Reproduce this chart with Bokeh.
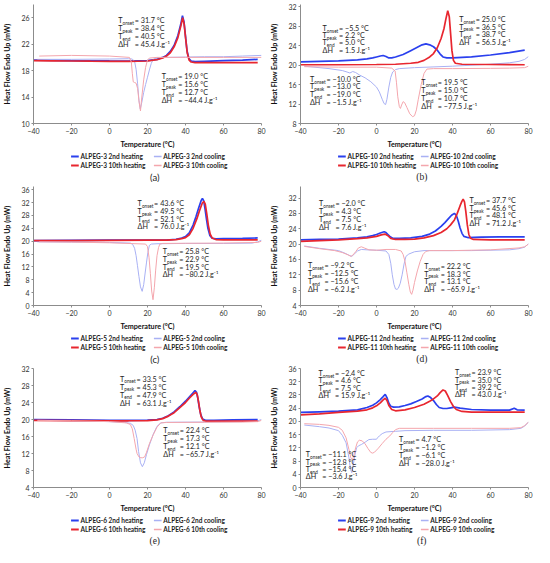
from bokeh.plotting import figure
from bokeh.layouts import column, row
from bokeh.models import ColumnDataSource, FixedTicker
from bokeh.core.properties import value
from bokeh.embed import file_html
from bokeh.resources import INLINE

X_TICKS = [-40, -20, 0, 20, 40, 60, 80]
SUFFIXES = ["2nd heating", "2nd cooling", "10th heating", "10th cooling"]

# ---------------- (a) ALPEG-3
A_NAME = "ALPEG-3"
A_Y_TICKS = [10, 14, 18, 22, 26]
A_H2_T = [-40, -30, -20, -10, 0, 10, 20, 25, 28, 30, 32, 34, 36, 37.5, 38.4, 39.2, 40.0, 40.8, 41.8, 43, 45, 50, 60, 70, 78]
A_H2_Y = [19.6, 19.55, 19.5, 19.48, 19.46, 19.45, 19.5, 19.7, 20.0, 20.3, 20.9, 21.8, 23.3, 25.0, 26.3, 25.4, 23.2, 21.0, 19.8, 19.45, 19.35, 19.4, 19.5, 19.6, 19.7]
A_H10_T = [-40, -30, -20, -10, 0, 10, 20, 25, 28, 30, 32, 34, 36, 37.6, 38.5, 39.3, 40.1, 40.9, 41.9, 43, 45, 50, 60, 70, 78]
A_H10_Y = [19.5, 19.48, 19.45, 19.42, 19.4, 19.4, 19.45, 19.65, 19.9, 20.2, 20.7, 21.6, 23.0, 24.8, 26.0, 25.0, 22.8, 20.7, 19.6, 19.3, 19.2, 19.2, 19.2, 19.2, 19.2]
A_C2_T = [80, 70, 60, 50, 40, 30, 25, 23, 22, 21, 20, 19, 18, 17, 16.2, 15.5, 14.8, 14, 13.2, 12, 10, 0, -20, -38]
A_C2_Y = [20.3, 20.2, 20.1, 20.1, 20.05, 20.0, 19.95, 19.7, 19.1, 18.1, 17.0, 15.9, 14.7, 13.2, 12.2, 13.5, 16.0, 18.2, 19.4, 19.75, 19.8, 19.75, 19.7, 19.7]
A_C10_T = [80, 60, 40, 25, 21, 20, 19, 18, 17, 16.3, 15.6, 14.8, 14, 13.2, 12.5, 12, 11.5, 10.5, 0, -20, -37]
A_C10_Y = [20.0, 20.0, 20.0, 20.0, 19.9, 19.6, 18.5, 16.6, 14.0, 11.9, 13.2, 15.3, 16.1, 16.2, 16.3, 17.6, 19.3, 20.0, 20.2, 20.3, 20.2]
A_ANN_HEAT = ["31.7", "38.4", "40.5", "45.4"]
A_ANN_COOL = ["19.0", "15.6", "12.7", "\u221244.4"]

# ---------------- (b) ALPEG-10
B_NAME = "ALPEG-10"
B_Y_TICKS = [8, 12, 16, 20, 24, 28, 32]
B_H2_T = [-40, -30, -20, -10, -5, -2, 0, 2, 3.5, 5, 6.5, 8, 10, 14, 18, 22, 24, 26, 28, 30, 32, 33.5, 35, 37, 40, 50, 60, 70, 78]
B_H2_Y = [20.7, 20.8, 20.9, 21.1, 21.3, 21.5, 21.7, 21.9, 22.0, 21.8, 21.5, 21.5, 21.7, 22.2, 23.0, 23.8, 24.2, 24.4, 24.2, 23.8, 23.1, 22.3, 21.7, 21.5, 21.5, 21.7, 22.1, 22.6, 23.1]
B_H10_T = [-40, -20, 0, 10, 18, 22, 25, 28, 30, 32, 34, 35.5, 36.5, 37.5, 38.3, 39, 39.7, 40.5, 41.5, 45, 60, 78]
B_H10_Y = [20.1, 20.1, 20.15, 20.2, 20.4, 20.6, 21.0, 21.7, 22.4, 23.6, 25.5, 27.5, 29.5, 31.2, 30.0, 26.5, 23.0, 21.0, 20.4, 20.2, 20.15, 20.1]
B_C2_T = [80, 78, 75, 70, 60, 40, 20, 12, 10, 8.5, 7.5, 6.5, 5.5, 4.8, 4, 3, 1.5, 0, -3, -6, -9, -11, -12.5, -14, -15.5, -18, -25, -38]
B_C2_Y = [21.8, 21.2, 20.8, 20.5, 20.2, 19.8, 19.5, 19.3, 19.1, 18.6, 17.5, 15.5, 13.0, 11.9, 12.1, 13.0, 14.5, 15.5, 16.6, 17.4, 18.0, 18.5, 18.7, 18.4, 18.6, 18.9, 19.3, 19.8]
B_C10_T = [80, 78, 70, 60, 40, 30, 26.5, 25, 23.5, 22, 21, 20, 19, 17.5, 16, 14.8, 14, 13.2, 12.6, 12, 11.2, 10.5, 9.8, 8, 0, -20, -38]
B_C10_Y = [19.8, 19.5, 19.4, 19.35, 19.3, 19.3, 19.2, 18.3, 16.0, 13.0, 10.8, 9.6, 9.4, 10.0, 11.3, 12.3, 12.5, 11.8, 11.1, 11.5, 13.5, 16.5, 18.8, 19.4, 19.6, 19.6, 19.7]
B_ANN_HEAT1 = ["\u22125.5", "2.2", "5.0", "1.5"]
B_ANN_HEAT2 = ["25.0", "36.5", "38.7", "56.5"]
B_ANN_COOL1 = ["\u221210.0", "\u221213.0", "\u221219.0", "\u22121.5"]
B_ANN_COOL2 = ["19.5", "15.0", "10.7", "\u221277.5"]

# ---------------- (c) ALPEG-5
C_NAME = "ALPEG-5"
C_Y_TICKS = [0, 4, 8, 12, 16, 20, 24, 28, 32, 36]
C_H2_T = [-40, -20, 0, 20, 30, 35, 38, 40, 42, 44, 45.5, 47, 48.2, 48.9, 49.6, 50.3, 51, 51.8, 52.8, 54, 56, 60, 70, 78]
C_H2_Y = [20.2, 20.25, 20.3, 20.3, 20.35, 20.6, 21.0, 21.4, 22.6, 25.0, 27.6, 30.5, 32.6, 33.3, 32.5, 30.0, 27.0, 24.0, 21.8, 20.9, 20.7, 20.8, 20.9, 21.0]
C_H10_T = [-40, -20, 0, 20, 30, 35, 38, 40, 42, 44, 46, 47.5, 48.8, 49.7, 50.4, 51.2, 52, 53, 54, 56, 60, 78]
C_H10_Y = [20.2, 20.2, 20.25, 20.3, 20.3, 20.5, 20.8, 21.1, 22.0, 24.0, 27.0, 29.7, 31.8, 32.4, 31.5, 28.5, 25.0, 22.2, 21.0, 20.5, 20.4, 20.4]
C_C2_T = [80, 78, 75, 60, 40, 25, 22, 21, 20.2, 19.5, 18.7, 18, 17.2, 16.3, 15.5, 14.7, 14, 13.2, 12.2, 11, 0, -20, -38]
C_C2_Y = [20.3, 19.8, 19.4, 19.3, 19.3, 19.2, 19.1, 18.7, 16.5, 13.5, 9.8, 6.5, 4.4, 5.8, 9.0, 12.5, 15.5, 17.8, 19.0, 19.4, 19.6, 19.7, 19.8]
C_C10_T = [80, 78, 60, 40, 28, 26.5, 25.8, 25, 24.3, 23.6, 22.9, 22.2, 21.5, 20.8, 20, 19, 0, -20, -37]
C_C10_Y = [20.0, 19.6, 19.4, 19.35, 19.3, 19.1, 18.0, 15.5, 11.0, 5.5, 1.8, 4.5, 10.0, 15.0, 18.3, 19.1, 19.5, 19.7, 19.8]
C_ANN_HEAT = ["43.6", "49.5", "52.1", "76.0"]
C_ANN_COOL = ["25.8", "22.9", "19.5", "\u221280.2"]

# ---------------- (d) ALPEG-11
D_NAME = "ALPEG-11"
D_Y_TICKS = [4, 8, 12, 16, 20, 24, 28, 32]
D_H2_T = [-40, -30, -20, -10, -5, -2, 0, 2, 4, 5, 6, 7, 8.5, 12, 18, 24, 28, 31, 34, 36, 38, 39.5, 41, 42, 43, 44, 45, 46, 48, 55, 65, 78]
D_H2_Y = [21.1, 21.2, 21.3, 21.6, 21.9, 22.2, 22.5, 22.9, 23.2, 23.0, 22.5, 22.0, 21.5, 21.5, 21.6, 22.0, 22.6, 23.4, 24.6, 25.6, 26.7, 27.5, 28.0, 27.5, 26.0, 24.2, 22.8, 22.0, 21.7, 21.8, 21.9, 21.9]
D_H10_T = [-40, -30, -20, -10, -5, 0, 2.5, 4.5, 6, 7.5, 10, 15, 20, 25, 30, 34, 37, 39, 41, 42.5, 44, 45, 45.6, 46.3, 47, 47.8, 48.6, 49.5, 51, 60, 78]
D_H10_Y = [20.7, 20.9, 21.1, 21.4, 21.6, 22.0, 22.4, 22.6, 22.2, 21.5, 21.2, 21.2, 21.3, 21.6, 22.2, 23.0, 24.0, 25.0, 26.3, 28.0, 30.0, 31.2, 31.7, 31.0, 28.5, 25.0, 22.5, 21.5, 21.2, 21.1, 21.1]
D_C2_T = [80, 78, 75, 70, 50, 30, 25, 20, 17, 15.5, 14.5, 13.5, 12.5, 11.5, 10.8, 10, 9.2, 8.3, 7.5, 6.5, 5, 0, -5, -8, -10, -11.5, -13, -14.5, -16.5, -20, -25, -30, -38]
D_C2_Y = [20.1, 19.2, 18.8, 18.5, 18.3, 18.3, 18.3, 18.0, 17.4, 16.8, 14.8, 12.0, 9.8, 8.5, 8.2, 8.3, 9.5, 12.0, 15.0, 17.3, 18.2, 18.4, 18.5, 18.6, 18.2, 17.5, 16.8, 17.1, 17.6, 18.3, 18.6, 18.9, 19.5]
D_C10_T = [80, 78, 75, 60, 40, 28, 26, 24.5, 23, 21.5, 20, 19.2, 18.5, 17.8, 17, 16, 15, 14, 13, 10, 5, 0, -4, -6.5, -8, -9.5, -11, -12.5, -13.5, -15, -18, -22, -30, -38]
D_C10_Y = [20.0, 19.3, 19.0, 18.5, 18.3, 18.3, 18.1, 17.3, 15.5, 13.0, 10.0, 8.0, 6.9, 7.5, 9.5, 12.5, 15.5, 17.3, 18.2, 18.6, 18.6, 18.4, 18.5, 19.0, 19.3, 19.0, 18.0, 17.1, 16.8, 17.2, 17.8, 18.3, 18.8, 19.4]
D_ANN_HEAT1 = ["\u22122.0", "4.3", "7.5", "7.6"]
D_ANN_HEAT2 = ["37.7", "45.6", "48.1", "71.2"]
D_ANN_COOL1 = ["\u22129.2", "\u221212.5", "\u221215.6", "\u22126.2"]
D_ANN_COOL2 = ["22.2", "18.3", "13.1", "\u221265.9"]

# ---------------- (e) ALPEG-6
E_NAME = "ALPEG-6"
E_Y_TICKS = [4, 8, 12, 16, 20, 24, 28, 32]
E_H2_T = [-40, -20, 0, 10, 20, 25, 28, 31, 34, 37, 40, 42, 44, 45, 45.8, 46.5, 47.2, 48, 49, 50.5, 55, 65, 78]
E_H2_Y = [20.0, 19.9, 19.8, 19.8, 19.85, 20.0, 20.3, 20.9, 21.8, 23.0, 24.3, 25.3, 26.3, 26.8, 26.4, 25.0, 23.0, 21.2, 20.1, 19.8, 19.8, 19.9, 20.0]
E_H10_T = [-40, -20, 0, 10, 20, 25, 28, 31, 34, 37, 40, 42, 44, 45.5, 46.2, 46.8, 47.5, 48.3, 49.3, 51, 55, 65, 78]
E_H10_Y = [19.8, 19.75, 19.7, 19.7, 19.75, 19.9, 20.2, 20.8, 21.6, 22.8, 24.0, 25.0, 25.9, 26.4, 25.8, 24.3, 22.3, 20.6, 19.8, 19.6, 19.6, 19.6, 19.6]
E_C2_T = [80, 78, 70, 50, 30, 27, 25, 23, 21, 19.5, 18.3, 17.3, 16.3, 15.3, 14.5, 13.5, 12.5, 11, 8, 0, -20, -38]
E_C2_Y = [20.0, 19.7, 19.5, 19.4, 19.35, 19.2, 18.4, 16.5, 14.0, 11.8, 9.8, 8.9, 9.8, 12.5, 15.5, 17.5, 18.6, 19.1, 19.3, 19.5, 19.7, 19.8]
E_C10_T = [80, 78, 70, 50, 30, 27, 25, 23, 21, 19.5, 18.5, 17.5, 16.5, 15.5, 14.5, 14, 13, 12, 11, 9, 0, -20, -38]
E_C10_Y = [19.8, 19.5, 19.4, 19.35, 19.3, 19.2, 18.2, 16.4, 14.3, 12.3, 11.2, 11.0, 11.0, 11.2, 12.0, 13.0, 15.5, 17.8, 18.8, 19.2, 19.5, 19.7, 19.8]
E_ANN_HEAT = ["33.5", "45.3", "47.9", "63.1"]
E_ANN_COOL = ["22.4", "17.3", "12.1", "\u221265.7"]

# ---------------- (f) ALPEG-9
F_NAME = "ALPEG-9"
F_Y_TICKS = [0, 4, 8, 12, 16, 20, 24, 28, 32, 36]
F_H2_T = [-40, -30, -20, -10, -5, -2, 0, 2, 3.5, 4.6, 5.5, 6.5, 7.5, 9, 12, 15, 18, 21, 24, 26, 27, 28.5, 30, 31.5, 33, 35, 37, 39, 41, 44, 50, 60, 70, 72.5, 74, 78]
F_H2_Y = [22.7, 22.9, 23.1, 23.5, 24.2, 24.9, 25.6, 26.6, 27.5, 28.2, 27.2, 25.5, 24.6, 24.3, 24.4, 24.8, 25.3, 26.0, 26.8, 27.5, 27.7, 27.2, 26.3, 25.1, 24.2, 23.9, 23.9, 24.1, 24.3, 24.0, 23.6, 23.4, 23.4, 24.0, 23.5, 23.4]
F_H10_T = [-40, -30, -20, -10, -5, -2, 0, 2, 3.5, 4.6, 5.5, 6.5, 8, 10, 15, 20, 25, 28, 30, 32, 33.5, 35, 36.2, 37.5, 39, 40.5, 42, 45, 50, 60, 78]
F_H10_Y = [22.0, 22.3, 22.7, 23.1, 23.5, 24.1, 24.7, 25.6, 26.5, 27.0, 26.3, 24.8, 23.6, 23.2, 23.5, 24.2, 25.2, 26.1, 26.8, 27.7, 28.7, 29.5, 29.2, 27.8, 26.0, 24.5, 23.6, 23.0, 22.8, 22.8, 22.8]
F_C2_T = [80, 78, 76, 70, 50, 30, 15, 10, 5, 3, 1.5, 0.5, 0, -2, -4, -6, -8, -9.5, -10.5, -11.5, -12.3, -13, -13.7, -14.5, -16, -18, -20, -25, -30, -38]
F_C2_Y = [19.8, 18.6, 17.9, 17.5, 17.3, 17.3, 17.2, 17.0, 16.8, 16.3, 15.6, 15.0, 14.6, 14.6, 14.5, 13.7, 13.0, 12.6, 12.0, 9.5, 6.5, 4.5, 5.5, 9.0, 13.5, 15.8, 17.2, 18.0, 18.4, 18.9]
F_C10_T = [80, 78, 76, 70, 50, 30, 12, 10, 8.5, 7, 5, 3, 1, -1, -2, -3, -4.5, -6, -7.5, -9, -10, -11, -12, -12.7, -13.5, -14.5, -16, -18, -20, -25, -30, -38]
F_C10_Y = [19.8, 18.7, 18.1, 17.9, 17.9, 17.9, 17.9, 17.5, 16.6, 15.6, 14.6, 13.3, 11.9, 10.7, 10.4, 10.6, 11.8, 13.2, 14.1, 14.3, 13.8, 12.0, 9.5, 8.3, 9.0, 11.5, 15.0, 17.3, 18.2, 18.8, 19.1, 19.3]
F_ANN_HEAT1 = ["\u22122.4", "4.6", "7.5", "15.9"]
F_ANN_HEAT2 = ["23.9", "35.0", "39.2", "43.0"]
F_ANN_COOL1 = ["\u221211.1", "\u221212.8", "\u221215.4", "\u22123.6"]
F_ANN_COOL2 = ["4.7", "\u22121.2", "\u22126.1", "\u221228.0"]

# ---------------- styling
COLORS = ["#2a40ee", "#a9b1f4", "#e8262f", "#f4a6ad"]
WIDTHS = [1.7, 1.0, 1.7, 1.0]
FONT = "Lato"
TXT = "#1e1e1e"
CELL_W = 267
MAIN_H = 151
LEG_H = 31

# panel specs (annotation anchors: data x, data y of first line, line step px)
PANELS = [
    dict(name=A_NAME, cap="(a)", capfont="Lato", yr=(10, 28), yt=A_Y_TICKS,
         curves=[(A_H2_T, A_H2_Y), (A_C2_T, A_C2_Y), (A_H10_T, A_H10_Y), (A_C10_T, A_C10_Y)],
         ann=[(A_ANN_HEAT, 4.6, 25.6, 8.1), (A_ANN_COOL, 27.5, 17.1, 7.9)]),
    dict(name=B_NAME, cap="(b)", capfont="Liberation Serif", yr=(8, 32.5), yt=B_Y_TICKS,
         curves=[(B_H2_T, B_H2_Y), (B_C2_T, B_C2_Y), (B_H10_T, B_H10_Y), (B_C10_T, B_C10_Y)],
         ann=[(B_ANN_HEAT1, -28.4, 27.6, 7.3), (B_ANN_HEAT2, 43.5, 29.4, 7.6),
              (B_ANN_COOL1, -35.0, 17.1, 7.6), (B_ANN_COOL2, 23.6, 16.4, 7.8)]),
    dict(name=C_NAME, cap="(c)", capfont="Lato", yr=(0, 37), yt=C_Y_TICKS,
         curves=[(C_H2_T, C_H2_Y), (C_C2_T, C_C2_Y), (C_H10_T, C_H10_Y), (C_C10_T, C_C10_Y)],
         ann=[(C_ANN_HEAT, 14.8, 31.6, 7.6), (C_ANN_COOL, 28.0, 16.8, 7.8)]),
    dict(name=D_NAME, cap="(d)", capfont="Liberation Serif", yr=(4, 35), yt=D_Y_TICKS,
         curves=[(D_H2_T, D_H2_Y), (D_C2_T, D_C2_Y), (D_H10_T, D_H10_Y), (D_C10_T, D_C10_Y)],
         ann=[(D_ANN_HEAT1, -30.3, 30.5, 7.8), (D_ANN_HEAT2, 48.9, 31.3, 7.6),
              (D_ANN_COOL1, -36.1, 14.4, 8.1), (D_ANN_COOL2, 25.1, 14.2, 7.8)]),
    dict(name=E_NAME, cap="(e)", capfont="Liberation Serif", yr=(4, 32), yt=E_Y_TICKS,
         curves=[(E_H2_T, E_H2_Y), (E_C2_T, E_C2_Y), (E_H10_T, E_H10_Y), (E_C10_T, E_C10_Y)],
         ann=[(E_ANN_HEAT, 5.5, 29.5, 8.0), (E_ANN_COOL, 28.3, 17.3, 7.8)]),
    dict(name=F_NAME, cap="(f)", capfont="Liberation Serif", yr=(0, 36), yt=F_Y_TICKS,
         curves=[(F_H2_T, F_H2_Y), (F_C2_T, F_C2_Y), (F_H10_T, F_H10_Y), (F_C10_T, F_C10_Y)],
         ann=[(F_ANN_HEAT1, -30.5, 34.5, 7.4), (F_ANN_HEAT2, 41.3, 34.7, 7.4),
              (F_ANN_COOL2, 11.8, 14.4, 7.8), (F_ANN_COOL1, -37.2, 9.9, 7.4)]),
]

SUBS = ["onset", "peak", "end"]


def add_block(p, vals, x, y, dy):
    mx, my, mxo, myo, mt = [], [], [], [], []
    sx, sy, sxo, syo, st = [], [], [], [], []
    for i in range(3):
        yo = i * dy
        mx += [x, x]; my += [y, y]; mxo += [0, 16.5]; myo += [yo, yo]
        mt += ["T", "= " + vals[i] + " \u00b0C"]
        sx.append(x); sy.append(y); sxo.append(4.3); syo.append(yo + 2.3); st.append(SUBS[i])
    yo = 3 * dy
    mx += [x, x]; my += [y, y]; mxo += [0, 16.5]; myo += [yo, yo]
    mt += ["\u0394H", "=  " + vals[3] + " J.g\u207b\u00b9"]
    p.text(x="x", y="y", x_offset="xo", y_offset="yo", text="t",
           source=ColumnDataSource(dict(x=mx, y=my, xo=mxo, yo=myo, t=mt)),
           text_font=value(FONT), text_font_size="7.2px", text_baseline="middle",
           text_align="left", text_color=TXT)
    p.text(x="x", y="y", x_offset="xo", y_offset="yo", text="t",
           source=ColumnDataSource(dict(x=sx, y=sy, xo=sxo, yo=syo, t=st)),
           text_font=value(FONT), text_font_size="4.7px", text_baseline="middle",
           text_align="left", text_color=TXT)


def make_main(spec):
    p = figure(width=CELL_W, height=MAIN_H, x_range=(-40, 80), y_range=spec["yr"],
               output_backend="svg", toolbar_location=None, title=None,
               min_border_left=29, min_border_right=6, min_border_top=4, min_border_bottom=0)
    p.outline_line_color = None
    p.grid.visible = False
    p.xaxis.ticker = FixedTicker(ticks=X_TICKS)
    p.yaxis.ticker = FixedTicker(ticks=spec["yt"])
    p.xaxis.axis_label = "Temperature (\u00b0C)"
    p.yaxis.axis_label = "Heat Flow Endo Up (mW)"
    for ax in (p.xaxis[0], p.yaxis[0]):
        ax.axis_line_color = "#8c8c8c"
        ax.major_tick_line_color = "#8c8c8c"
        ax.major_tick_out = 2
        ax.major_tick_in = 0
        ax.minor_tick_line_color = None
        ax.major_label_text_font = FONT
        ax.major_label_text_font_size = "7px"
        ax.major_label_text_color = "#333333"
        ax.major_label_standoff = 2
        ax.axis_label_text_font = FONT
        ax.axis_label_text_font_style = "bold"
        ax.axis_label_text_font_size = "7.2px"
        ax.axis_label_text_color = "#111111"
    p.xaxis.axis_label_standoff = 3
    p.yaxis.axis_label_standoff = 6
    for (t, yv), col, w in zip(spec["curves"], COLORS, WIDTHS):
        p.line(t, yv, line_color=col, line_width=w)
    for vals, x, y, dy in spec["ann"]:
        add_block(p, vals, x, y, dy)
    return p


def make_legend(spec):
    # legend + caption drawn as a small keyless figure (pixel coordinates)
    q = figure(width=CELL_W, height=LEG_H, x_range=(0, CELL_W), y_range=(0, LEG_H),
               output_backend="svg", toolbar_location=None, title=None,
               x_axis_type=None, y_axis_type=None, min_border=0)
    q.outline_line_color = None
    q.grid.visible = False
    col_x = [44, 141]
    row_y = [LEG_H - 5, LEG_H - 14]
    for k, suf in enumerate(SUFFIXES):
        cx = col_x[k % 2]
        ry = row_y[k // 2]
        q.segment(x0=[cx], y0=[ry], x1=[cx + 9], y1=[ry], line_color=COLORS[k], line_width=WIDTHS[k] + 0.4)
        q.text(x=[cx + 11], y=[ry], text=[spec["name"] + " " + suf], text_font=value(FONT),
               text_font_style="bold", text_font_size="6.5px", text_baseline="middle",
               text_color=TXT)
    q.text(x=[142], y=[5.5], text=[spec["cap"]], text_font=value(spec["capfont"]),
           text_font_size="9.5px", text_baseline="middle", text_align="center", text_color=TXT)
    return q


cells = [column(make_main(s), make_legend(s)) for s in PANELS]
layout = column(row(cells[0], cells[1]), row(cells[2], cells[3]), row(cells[4], cells[5]))

open("out.html", "w").write(file_html(layout, INLINE))
